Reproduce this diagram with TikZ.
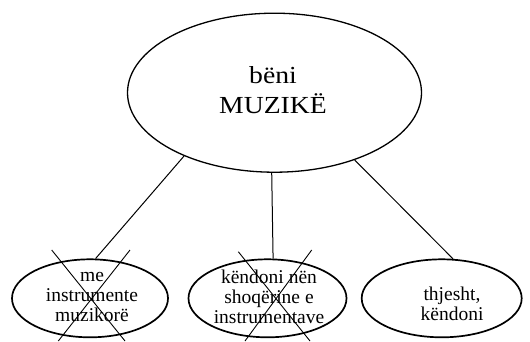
\documentclass[tikz,border=0pt]{standalone}
\usepackage{fontspec}
\setmainfont{Liberation Serif}
\newfontfamily\bigfont[FakeStretch=1.13]{Liberation Serif}
\usetikzlibrary{shapes.geometric}
\tikzset{
  bigell/.style={draw, ellipse, line width=1.3bp, inner sep=0pt, minimum width=294bp, minimum height=159bp},
  smallell/.style={draw, ellipse, line width=1.7bp, inner sep=0pt, minimum height=78bp},
  smalltext/.style={align=center, anchor=base, inner sep=0pt, font=\fontsize{19.5bp}{20bp}\selectfont},
  bigtext/.style={align=center, anchor=base, inner sep=0pt, font=\bigfont\fontsize{24.5bp}{30bp}\selectfont},
  conn/.style={line width=1bp},
  crossline/.style={line width=0.9bp}
}
\begin{document}
\begin{tikzpicture}[x=1bp, y=-1bp]
\useasboundingbox (0,0) rectangle (530,341);
% ellipses
\node[bigell] (big) at (274.5,92.7) {};
\node[smallell, minimum width=156bp] (l) at (90,298.3) {};
\node[smallell, minimum width=158bp] (m) at (267.5,298.3) {};
\node[smallell, minimum width=160bp] (r) at (441.7,298.3) {};
% texts (base anchor = baseline of last line)
\node[bigtext] (bigt) at (273,113.3) {bëni\\MUZIKË};
\node[smalltext] (lt) at (92,321.7) {me\\instrumente\\muzikorë};
\node[smalltext] (mt) at (269,323.3) {këndoni nën\\shoqërine e\\instrumentave};
\node[smalltext] (rt) at (452,320.5) {thjesht,\\këndoni};
% connectors
\draw[conn] (big.215.1) -- (l.82.9);
\draw[conn] (big.268.9) -- (m.82);
\draw[conn] (big.320.8) -- (r.74.2);
% crosses
\coordinate (la1) at (51.7,250); \coordinate (la2) at (125,341);
\coordinate (lb1) at (130,250); \coordinate (lb2) at (58.3,341);
\coordinate (ma1) at (238.3,251.7); \coordinate (ma2) at (310,341);
\coordinate (mb1) at (311.7,250); \coordinate (mb2) at (245,341);
\draw[crossline] (la1) -- (la2);
\draw[crossline] (lb1) -- (lb2);
\draw[crossline] (ma1) -- (ma2);
\draw[crossline] (mb1) -- (mb2);
\end{tikzpicture}
\end{document}
